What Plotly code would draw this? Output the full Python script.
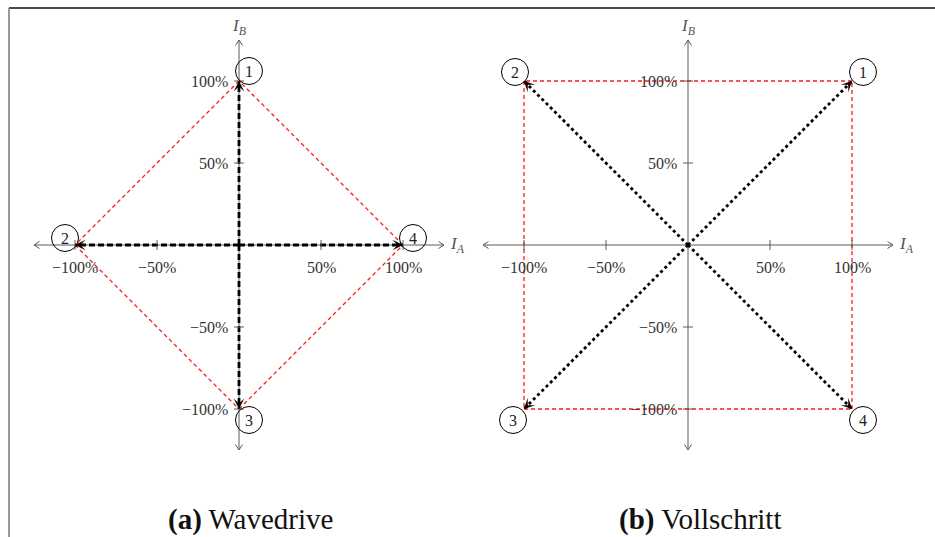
import numpy as np
import plotly.graph_objects as go

# Phase current vectors (fraction of rated current) for each step
wave_steps = ["1", "2", "3", "4"]
wave_IA = [0.0, -1.0, 0.0, 1.0]
wave_IB = [1.0, 0.0, -1.0, 0.0]

full_steps = ["1", "2", "3", "4"]
full_IA = [1.0, -1.0, -1.0, 1.0]
full_IB = [1.0, 1.0, -1.0, -1.0]

tick_vals = [-1.0, -0.5, 0.5, 1.0]
tick_text = ["\u2212100%", "\u221250%", "50%", "100%"]

captions = ["<b>(a)</b> Wavedrive", "<b>(b)</b> Vollschritt"]

# ---- layout geometry ----
W, H = 935, 537
PX = 164.0                     # pixels per 100 %
ORIGINS_X = [239.0, 688.0]     # pixel x of each diagram origin
ORIGIN_Y = 245.0
XHALF = 1.35
AX_LEN = 1.25
FONT = "Liberation Serif"
AXIS_COL = "#5a5a5a"
TEXT_COL = "#333333"

# circled step-number offsets in pixels (dx, dy screen)
wave_off = {"1": (10, -10), "2": (-10, -7), "3": (10, 11), "4": (10, -7)}
full_off = {"1": (11, -9), "2": (-9, -9), "3": (-11, 11), "4": (11, 11)}

fig = go.Figure()
shapes = []
annots = []


def axes_names(k):
    return ("x", "y") if k == 0 else ("x2", "y2")


def line_trace(xs, ys, xr, yr, **line):
    fig.add_trace(go.Scatter(x=xs, y=ys, mode="lines", line=line, xaxis=xr, yaxis=yr,
                             hoverinfo="skip", showlegend=False))


def draw_frame(k):
    xr, yr = axes_names(k)
    # axis lines
    line_trace([-AX_LEN, AX_LEN], [0, 0], xr, yr, color=AXIS_COL, width=1)
    line_trace([0, 0], [-AX_LEN, AX_LEN], xr, yr, color=AXIS_COL, width=1)
    # open "->" style arrow tips at both ends of each axis
    back, side = 5.5 / PX, 3.5 / PX
    for ux, uy in [(1, 0), (-1, 0), (0, 1), (0, -1)]:
        tx, ty = ux * AX_LEN, uy * AX_LEN
        px_, py_ = -uy, ux
        xs = [tx - ux * back + px_ * side, tx, tx - ux * back - px_ * side]
        ys = [ty - uy * back + py_ * side, ty, ty - uy * back - py_ * side]
        line_trace(xs, ys, xr, yr, color=AXIS_COL, width=1)
    # ticks + labels
    d = 5.0 / PX
    for v, t in zip(tick_vals, tick_text):
        shapes.append(dict(type="line", xref=xr, yref=yr, x0=v, x1=v, y0=-d, y1=d,
                           line=dict(color=AXIS_COL, width=1)))
        shapes.append(dict(type="line", xref=xr, yref=yr, x0=-d, x1=d, y0=v, y1=v,
                           line=dict(color=AXIS_COL, width=1)))
        annots.append(dict(x=v, y=0, xref=xr, yref=yr, text=t, showarrow=False,
                           xanchor="center", yanchor="middle", yshift=-22,
                           font=dict(family=FONT, size=16, color=TEXT_COL)))
        annots.append(dict(x=0, y=v, xref=xr, yref=yr, text=t, showarrow=False,
                           xanchor="right", yanchor="middle", xshift=-9,
                           font=dict(family=FONT, size=16, color=TEXT_COL)))
    # axis titles
    annots.append(dict(x=1.335, y=0, xref=xr, yref=yr, text="<i>I<sub>A</sub></i>",
                       showarrow=False, xanchor="center", yanchor="middle",
                       font=dict(family=FONT, size=17, color="#555555")))
    annots.append(dict(x=0, y=1.33, xref=xr, yref=yr, text="<i>I<sub>B</sub></i>",
                       showarrow=False, xanchor="center", yanchor="middle",
                       font=dict(family=FONT, size=17, color="#555555")))


def draw_steps(k, ia, ib, steps, offs, dash):
    xr, yr = axes_names(k)
    # red dashed envelope, one segment per neighbouring pair of step vectors
    n_pts = len(ia)
    for i in range(n_pts):
        j = (i + 1) % n_pts
        line_trace([ia[i], ia[j]], [ib[i], ib[j]], xr, yr,
                   color="#ff1a1a", width=1.3, dash="4px,3px")
    for a, b, s in zip(ia, ib, steps):
        line_trace([0, a], [0, b], xr, yr, color="black", width=2.8, dash=dash)
        # arrow tip of the current vector
        n = np.hypot(a, b)
        ux, uy = a / n, b / n
        annots.append(dict(x=a, y=b, ax=a - 0.045 * ux, ay=b - 0.045 * uy,
                           xref=xr, yref=yr, axref=xr, ayref=yr, showarrow=True,
                           arrowhead=3, arrowsize=1.1, arrowwidth=1.6, arrowcolor="black",
                           standoff=0, text=""))
        dx, dy = offs[s]
        cx, cy = a + dx / PX, b - dy / PX
        r = 13.5 / PX
        shapes.append(dict(type="circle", xref=xr, yref=yr, x0=cx - r, x1=cx + r,
                           y0=cy - r, y1=cy + r, line=dict(color="black", width=1)))
        annots.append(dict(x=cx, y=cy, xref=xr, yref=yr, text=s, showarrow=False,
                           xanchor="center", yanchor="middle",
                           font=dict(family=FONT, size=16, color="#222222")))


for k in range(2):
    draw_frame(k)

draw_steps(0, wave_IA, wave_IB, wave_steps, wave_off, "6px,3px")
draw_steps(1, full_IA, full_IB, full_steps, full_off, "3px,3px")

# captions
for k, cap in enumerate(captions):
    annots.append(dict(x=[250, 700][k] / W, y=1 - 519 / H, xref="paper", yref="paper",
                       text=cap, showarrow=False, xanchor="center", yanchor="middle",
                       font=dict(family=FONT, size=29, color="#111111")))

# page frame lines
shapes.append(dict(type="line", xref="paper", yref="paper", x0=9 / W, x1=1, y0=1 - 8 / H,
                   y1=1 - 8 / H, line=dict(color="#111111", width=1.5)))
shapes.append(dict(type="line", xref="paper", yref="paper", x0=9 / W, x1=9 / W, y0=0,
                   y1=1 - 8 / H, line=dict(color="#777777", width=1.5)))

yr_range = [-(H - ORIGIN_Y) / PX, ORIGIN_Y / PX]


def xdom(cx):
    return [(cx - XHALF * PX) / W, (cx + XHALF * PX) / W]


fig.update_layout(
    width=W, height=H, autosize=False,
    margin=dict(l=0, r=0, t=0, b=0),
    paper_bgcolor="white", plot_bgcolor="rgba(0,0,0,0)",
    showlegend=False,
    xaxis=dict(domain=xdom(ORIGINS_X[0]), range=[-XHALF, XHALF], visible=False, anchor="y"),
    yaxis=dict(domain=[0, 1], range=yr_range, visible=False, anchor="x"),
    xaxis2=dict(domain=xdom(ORIGINS_X[1]), range=[-XHALF, XHALF], visible=False, anchor="y2"),
    yaxis2=dict(domain=[0, 1], range=yr_range, visible=False, anchor="x2"),
    shapes=shapes,
    annotations=annots,
)

fig.write_html("out.html")
